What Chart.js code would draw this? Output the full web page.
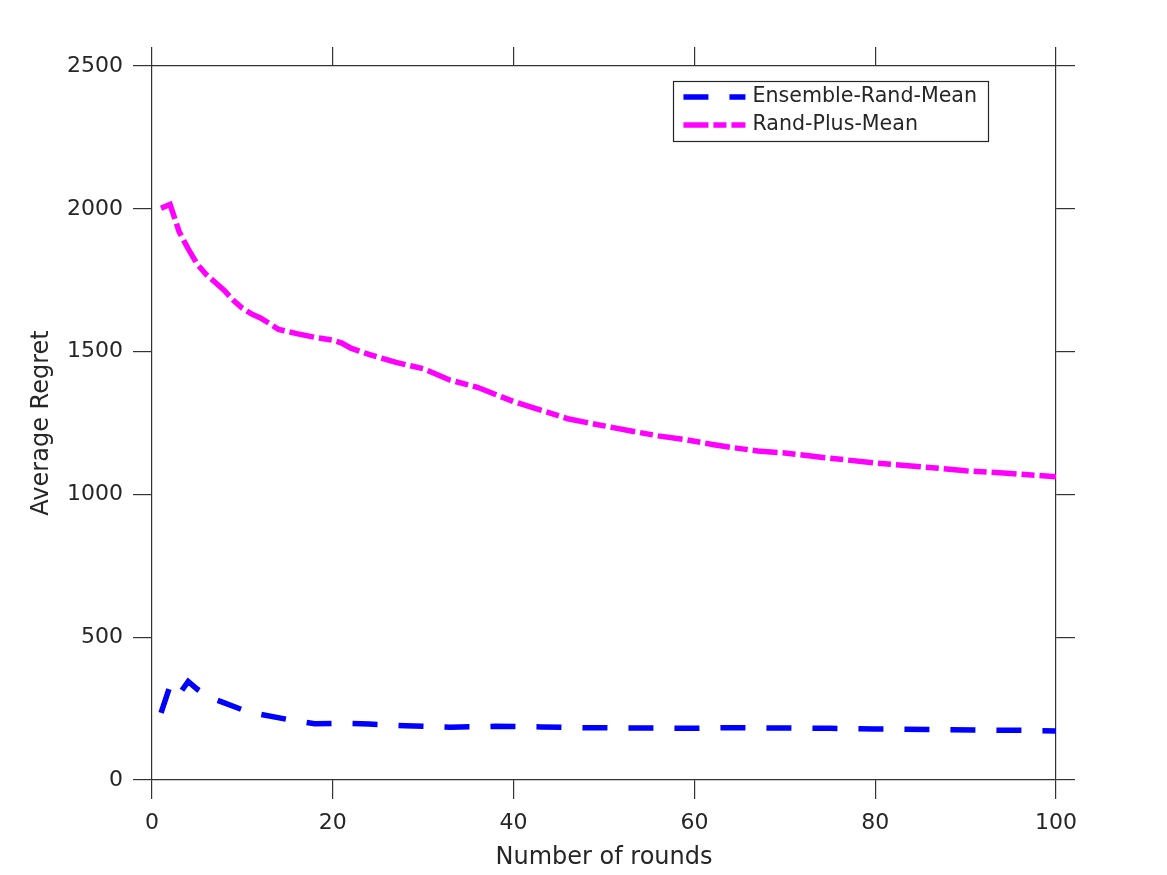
<!DOCTYPE html>
<html>
<head>
<meta charset="utf-8">
<script src="https://cdn.jsdelivr.net/npm/chart.js@4.4.0/dist/chart.umd.min.js"></script>
<style>
  html, body { margin: 0; padding: 0; background: #ffffff; }
  #wrap { width: 1167px; height: 875px; }
</style>
</head>
<body>
<div id="wrap"><canvas id="c" width="1167" height="875"></canvas></div>
<script>
// ---- data ----
const seriesNames = ['Ensemble-Rand-Mean', 'Rand-Plus-Mean'];

const ensembleRounds = [1, 2, 3, 4, 5, 6, 7, 8, 10, 12, 15, 18, 20, 22, 24, 26, 28, 30, 33, 38, 43, 48, 54, 59, 64, 70, 75, 80, 86, 91, 96, 100];
const ensembleRegret = [235, 330, 300, 345, 318, 298, 282, 270, 246, 230, 212, 197, 198, 198, 196, 193, 190, 188, 185, 188, 186, 183, 182, 181, 183, 182, 181, 179, 177, 175, 174, 172];

const randPlusRounds = [1, 2, 3, 4, 5, 6, 7, 8, 9, 10, 11, 12, 13, 14, 16, 18, 20, 21, 22, 24, 27, 30, 33, 36, 38, 40, 43, 46, 48, 50, 53, 56, 59, 62, 64, 67, 70, 74, 77, 80, 85, 90, 95, 100];
const randPlusRegret = [2002, 2015, 1920, 1860, 1806, 1770, 1742, 1714, 1680, 1652, 1632, 1618, 1598, 1578, 1563, 1550, 1540, 1530, 1512, 1490, 1462, 1440, 1400, 1375, 1350, 1325, 1295, 1265, 1252, 1240, 1222, 1205, 1192, 1175, 1165, 1152, 1145, 1130, 1120, 1110, 1097, 1083, 1073, 1062];

const xTicks = [0, 20, 40, 60, 80, 100];
const yTicks = [0, 500, 1000, 1500, 2000, 2500];
const xTitle = 'Number of rounds';
const yTitle = 'Average Regret';

// ---- styling ----
const FONT = '"DejaVu Sans", sans-serif';
const TEXT = '#262626';
const AXIS = '#333333';
const TICKLEN = 19;

const toXY = (xs, ys) => xs.map((x, i) => ({ x: x, y: ys[i] }));

const styles = [
  { color: '#0000ff', dash: [25, 21] },
  { color: '#ff00ff', dash: [25, 5, 13, 5] }
];

function fixSize(prop, v) {
  return function (scale) { scale[prop] = v; };
}
const plainLabel = v => String(v);

const baseGrid = {
  drawOnChartArea: false,
  drawTicks: true,
  tickLength: TICKLEN,
  color: AXIS,
  tickColor: AXIS,
  lineWidth: 1.2
};
const baseBorder = { display: true, color: AXIS, width: 1.2 };

const legendPlugin = {
  id: 'boxLegend',
  afterDatasetsDraw(chart) {
    const ctx = chart.ctx;
    const ca = chart.chartArea;
    ctx.save();
    ctx.font = '20.6px ' + FONT;
    let maxW = 0;
    seriesNames.forEach(n => { maxW = Math.max(maxW, ctx.measureText(n).width); });
    const padL = 10, sample = 62, gap = 7, padR = 11;
    const boxW = padL + sample + gap + maxW + padR;
    const boxH = 60;
    const x0 = ca.right - 68 - boxW;
    const y0 = ca.top + 15;
    ctx.fillStyle = '#ffffff';
    ctx.fillRect(x0, y0, boxW, boxH);
    ctx.strokeStyle = TEXT;
    ctx.lineWidth = 1.2;
    ctx.setLineDash([]);
    ctx.strokeRect(Math.round(x0) + 0.5, Math.round(y0) + 0.5, Math.round(boxW), boxH);
    seriesNames.forEach((n, i) => {
      const yy = y0 + 16 + i * 28;
      ctx.beginPath();
      ctx.setLineDash(styles[i].dash);
      ctx.lineDashOffset = 0;
      ctx.lineCap = 'butt';
      ctx.strokeStyle = styles[i].color;
      ctx.lineWidth = 5.5;
      ctx.moveTo(x0 + padL, yy);
      ctx.lineTo(x0 + padL + sample, yy);
      ctx.stroke();
      ctx.setLineDash([]);
      ctx.fillStyle = TEXT;
      ctx.textBaseline = 'middle';
      ctx.textAlign = 'left';
      ctx.fillText(n, x0 + padL + sample + gap, yy);
    });
    ctx.restore();
  }
};

new Chart(document.getElementById('c'), {
  type: 'line',
  data: {
    datasets: [
      {
        label: seriesNames[0],
        data: toXY(ensembleRounds, ensembleRegret),
        borderColor: styles[0].color,
        borderDash: styles[0].dash,
        borderWidth: 5.5,
        borderCapStyle: 'butt',
        pointRadius: 0,
        tension: 0,
        fill: false,
        xAxisID: 'x',
        yAxisID: 'y'
      },
      {
        label: seriesNames[1],
        data: toXY(randPlusRounds, randPlusRegret),
        borderColor: styles[1].color,
        borderDash: styles[1].dash,
        borderWidth: 5.5,
        borderCapStyle: 'butt',
        pointRadius: 0,
        tension: 0,
        fill: false,
        xAxisID: 'x',
        yAxisID: 'y'
      }
    ]
  },
  options: {
    responsive: false,
    animation: false,
    layout: { padding: 0 },
    plugins: {
      legend: { display: false },
      tooltip: { enabled: false },
      title: { display: false }
    },
    scales: {
      x: {
        type: 'linear', position: 'bottom',
        min: xTicks[0], max: xTicks[xTicks.length - 1],
        afterBuildTicks: s => { s.ticks = xTicks.map(v => ({ value: v })); },
        afterFit: fixSize('height', 95),
        grid: baseGrid, border: baseBorder,
        ticks: { color: TEXT, font: { family: FONT, size: 22 }, padding: 11, maxRotation: 0, callback: plainLabel },
        title: { display: true, text: xTitle, color: TEXT, font: { family: FONT, size: 24 }, padding: { top: 0, bottom: 3 } }
      },
      x2: {
        type: 'linear', position: 'top',
        min: xTicks[0], max: xTicks[xTicks.length - 1],
        afterBuildTicks: s => { s.ticks = xTicks.map(v => ({ value: v })); },
        afterFit: fixSize('height', 66),
        grid: baseGrid, border: baseBorder,
        ticks: { display: false }
      },
      y: {
        type: 'linear', position: 'left',
        min: yTicks[0], max: yTicks[yTicks.length - 1],
        afterBuildTicks: s => { s.ticks = yTicks.map(v => ({ value: v })); },
        afterFit: fixSize('width', 152),
        grid: baseGrid, border: baseBorder,
        ticks: { color: TEXT, font: { family: FONT, size: 22 }, padding: 10, callback: plainLabel },
        title: { display: true, text: yTitle, color: TEXT, font: { family: FONT, size: 24 }, padding: { top: 27, bottom: 0 } }
      },
      y2: {
        type: 'linear', position: 'right',
        min: yTicks[0], max: yTicks[yTicks.length - 1],
        afterBuildTicks: s => { s.ticks = yTicks.map(v => ({ value: v })); },
        afterFit: fixSize('width', 111),
        grid: baseGrid, border: baseBorder,
        ticks: { display: false }
      }
    }
  },
  plugins: [legendPlugin]
});
</script>
</body>
</html>
